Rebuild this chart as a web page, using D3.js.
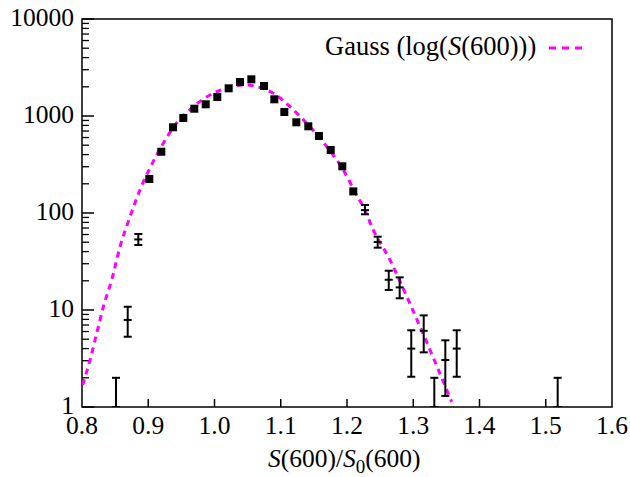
<!DOCTYPE html>
<html>
<head>
<meta charset="utf-8">
<script src="https://cdn.jsdelivr.net/npm/d3@7"></script>
<style>
  body { margin: 0; background: #fff; }
</style>
</head>
<body>
<div id="chart"></div>
<script>
// data
var squareX = [0.9016, 0.9197, 0.9374, 0.9529, 0.9695, 0.9867, 1.0042, 1.0214, 1.0385, 1.0556,
               1.0747, 1.0903, 1.1054, 1.1235, 1.1416, 1.1577, 1.1754, 1.1929, 1.2095];
var squareY = [224, 428, 765, 954, 1189, 1320, 1570, 1930, 2241, 2389,
               2038, 1486, 1100, 861, 783, 622, 446, 303, 167];

var barX  = [0.8513, 0.869, 0.885, 1.2272, 1.2463, 1.263, 1.2795, 1.297, 1.3158, 1.3318, 1.3484, 1.3656, 1.518];
var barY  = [1, 7.9, 53.4, 107, 50.2, 20.5, 17.1, 4.0, 6.1, 1, 3.05, 4.0, 1];
var barLo = [1, 5.3, 46.8, 97, 43.9, 16.1, 13.2, 2.05, 3.66, 1, 1.3, 2.05, 1];
var barHi = [2.0, 10.8, 60.8, 120.9, 57, 25.4, 21.7, 6.18, 8.8, 2.0, 4.87, 6.18, 2.0];

// fitted curve
var gaussX = [0.801, 0.8121, 0.8222, 0.8322, 0.8448, 0.8574, 0.8725, 0.8875, 0.9026, 0.9227,
              0.9404, 0.968, 0.9932, 1.0184, 1.046, 1.0637, 1.0888, 1.114, 1.1392, 1.1694,
              1.1944, 1.2146, 1.2246, 1.2397, 1.2649, 1.2925, 1.3102, 1.3328, 1.358];
var gaussY = [1.69, 3.05, 5.75, 10.8, 20.4, 44.9, 91.6, 173, 291, 523,
              807, 1247, 1647, 1930, 2087, 2005, 1714, 1247, 841, 483,
              278, 153, 116, 66.8, 32.8, 12.7, 6.73, 2.93, 1.13];

var xTicks = [0.8, 0.9, 1.0, 1.1, 1.2, 1.3, 1.4, 1.5, 1.6];
var yTicks = [1, 10, 100, 1000, 10000];

var font = "'Liberation Serif', 'DejaVu Serif', serif";

var margin = {top: 19, right: 18, bottom: 70, left: 82},
    width = 630 - margin.left - margin.right,
    height = 477 - margin.top - margin.bottom;

var svg = d3.select("#chart")
  .append("svg")
    .attr("width", 630)
    .attr("height", 477)
    .attr("font-family", font)
  .append("g")
    .attr("transform", "translate(" + margin.left + "," + margin.top + ")");

var x = d3.scaleLinear().domain([0.8, 1.6]).range([0, width]);
var y = d3.scaleLog().domain([1, 10000]).range([height, 0]);

svg.append("defs").append("clipPath").attr("id", "clip")
  .append("rect").attr("width", width).attr("height", height);

// x ticks pointing inward
svg.append("g").selectAll("line")
  .data(xTicks.slice(1, -1))
  .enter().append("line")
    .attr("x1", d => x(d)).attr("x2", d => x(d))
    .attr("y1", height).attr("y2", height - 8)
    .attr("stroke", "#000").attr("stroke-width", 1.5);

svg.append("g").selectAll("text")
  .data(xTicks)
  .enter().append("text")
    .attr("x", d => x(d))
    .attr("y", height + 27)
    .attr("text-anchor", "middle")
    .attr("font-family", font)
    .attr("font-size", 25.5)
    .text(d => d.toFixed(1));

// y ticks, major and minor
var minor = [];
for (var e = 0; e < 4; e++) {
  for (var m = 2; m <= 9; m++) minor.push(m * Math.pow(10, e));
}
svg.append("g").selectAll("line")
  .data(minor)
  .enter().append("line")
    .attr("x1", 0).attr("x2", 7)
    .attr("y1", d => y(d)).attr("y2", d => y(d))
    .attr("stroke", "#000").attr("stroke-width", 1.3);
svg.append("g").selectAll("line")
  .data(yTicks)
  .enter().append("line")
    .attr("x1", 0).attr("x2", 12)
    .attr("y1", d => y(d)).attr("y2", d => y(d))
    .attr("stroke", "#000").attr("stroke-width", 1.5);

svg.append("g").selectAll("text")
  .data(yTicks)
  .enter().append("text")
    .attr("x", -8)
    .attr("y", d => y(d))
    .attr("dy", "0.27em")
    .attr("text-anchor", "end")
    .attr("font-family", font)
    .attr("font-size", 25.5)
    .text(d => d);

// frame
svg.append("rect")
  .attr("width", width).attr("height", height)
  .attr("fill", "none").attr("stroke", "#000").attr("stroke-width", 1.5);

var plot = svg.append("g").attr("clip-path", "url(#clip)");

// gaussian
var gauss = gaussX.map((d, i) => [d, gaussY[i]]);
var line = d3.line()
  .x(d => x(d[0]))
  .y(d => y(d[1]))
  .curve(d3.curveMonotoneX);
plot.append("path")
  .attr("d", line(gauss))
  .attr("fill", "none")
  .attr("stroke", "#ff00ff")
  .attr("stroke-width", 3)
  .attr("stroke-dasharray", "6,5");

// error bars
var bars = barX.map((d, i) => ({x: d, y: barY[i], lo: barLo[i], hi: barHi[i]}));
var bg = plot.append("g").attr("stroke", "#000").attr("stroke-width", 2);
bars.forEach(function(b) {
  var cx = x(b.x);
  bg.append("line").attr("x1", cx).attr("x2", cx).attr("y1", y(b.lo)).attr("y2", y(b.hi));
  bg.append("line").attr("x1", cx - 4).attr("x2", cx + 4).attr("y1", y(b.hi)).attr("y2", y(b.hi));
  bg.append("line").attr("x1", cx - 4).attr("x2", cx + 4).attr("y1", y(b.lo)).attr("y2", y(b.lo));
  bg.append("line").attr("x1", cx - 4).attr("x2", cx + 4).attr("y1", y(b.y)).attr("y2", y(b.y));
});

// squares
plot.append("g").selectAll("rect")
  .data(squareX.map((d, i) => [d, squareY[i]]))
  .enter().append("rect")
    .attr("x", d => x(d[0]) - 4)
    .attr("y", d => y(d[1]) - 4)
    .attr("width", 8).attr("height", 8)
    .attr("fill", "#000");

// legend
var leg = svg.append("text")
  .attr("x", 325 - margin.left)
  .attr("y", 55 - margin.top)
  .attr("font-family", font)
  .attr("font-size", 26.5);
leg.append("tspan").text("Gauss (log(");
leg.append("tspan").attr("font-style", "italic").text("S");
leg.append("tspan").text("(600)))");
svg.append("line")
  .attr("x1", 549 - margin.left).attr("x2", 582 - margin.left)
  .attr("y1", 48 - margin.top).attr("y2", 48 - margin.top)
  .attr("stroke", "#ff00ff").attr("stroke-width", 3)
  .attr("stroke-dasharray", "7,6");

// x axis title
var title = svg.append("text")
  .attr("x", 268 - margin.left)
  .attr("y", height + 60)
  .attr("font-family", font)
  .attr("font-size", 25.5);
title.append("tspan").attr("font-style", "italic").text("S");
title.append("tspan").text("(600)/");
title.append("tspan").attr("font-style", "italic").text("S");
title.append("tspan").attr("dy", 6).attr("font-size", 19).text("0");
title.append("tspan").attr("dy", -6).text("(600)");
</script>
</body>
</html>
